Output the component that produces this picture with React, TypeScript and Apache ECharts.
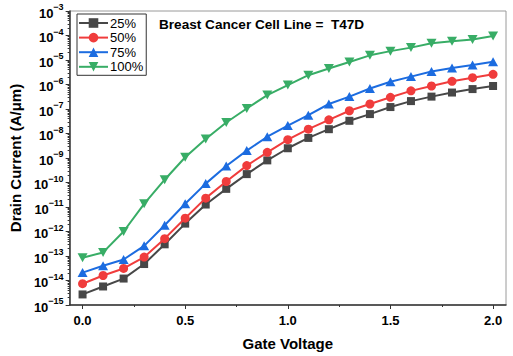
import React, { useEffect, useRef } from 'react';
import * as echarts from 'echarts';

const gateVoltage = [0, 0.1, 0.2, 0.3, 0.4, 0.5, 0.6, 0.7, 0.8, 0.9, 1.0, 1.1, 1.2, 1.3, 1.4, 1.5, 1.6, 1.7, 1.8, 1.9, 2.0];
const seriesNames = ['25%', '50%', '75%', '100%'];
const current25 = [2.7e-15, 5.7e-15, 1.2e-14, 4.7e-14, 3.0e-13, 2.1e-12, 1.26e-11, 5.5e-11, 2.2e-10, 8.0e-10, 2.5e-9, 6.6e-9, 1.5e-8, 3.3e-8, 6.2e-8, 1.2e-7, 2.1e-7, 3.2e-7, 4.7e-7, 6.5e-7, 8.7e-7];
const current50 = [7.4e-15, 1.6e-14, 3.1e-14, 9.0e-14, 5.1e-13, 3.5e-12, 2.3e-11, 1.1e-10, 4.9e-10, 1.7e-9, 5.6e-9, 1.5e-8, 3.6e-8, 8.5e-8, 1.6e-7, 3.0e-7, 5.5e-7, 8.7e-7, 1.35e-6, 1.9e-6, 2.6e-6];
const current75 = [2.1e-14, 4.0e-14, 7.2e-14, 2.6e-13, 1.8e-12, 1.35e-11, 9.0e-11, 4.7e-10, 2.0e-9, 7.4e-9, 2.1e-8, 5.6e-8, 1.6e-7, 3.2e-7, 6.9e-7, 1.3e-6, 2.1e-6, 3.4e-6, 4.7e-6, 6.3e-6, 8.5e-6];
const current100 = [8.5e-14, 1.4e-13, 1.0e-12, 1.35e-11, 1.3e-10, 1.07e-9, 6.0e-9, 2.8e-8, 1.05e-7, 3.7e-7, 9.5e-7, 2.4e-6, 4.5e-6, 8.3e-6, 1.55e-5, 2.3e-5, 3.2e-5, 4.8e-5, 5.8e-5, 6.9e-5, 9.5e-5];

const xMajorTicks = [0, 0.5, 1.0, 1.5, 2.0];
const xMinorTicks = [0.25, 0.75, 1.25, 1.75];
const yExponentMin = -15;
const yExponentMax = -3;
const titleText = 'Breast Cancer Cell Line =  T47D';

const FONT = '"Liberation Sans", Arial, sans-serif';

export default function App() {
  const ref = useRef<HTMLDivElement>(null);
  useEffect(() => {
    if (!ref.current) return;
    const chart = echarts.init(ref.current, null, { renderer: 'svg' });
    const yMinorTicks: number[] = [];
    for (let e = yExponentMin; e < yExponentMax; e++) {
      for (let k = 2; k <= 9; k++) yMinorTicks.push(e + Math.log10(k));
    }
    const xMin = -0.063;
    const xMax = 2.063;
    const allSeries = [current25, current50, current75, current100];
    const colors = ['#474747', '#f03c3c', '#1c6ce0', '#38ad66'];
    const symbols = ['rect', 'circle', 'triangle', 'path://M0,0L10,0L5,9Z'];
    const sizes: any[] = [8, 9, [10, 9], [10, 9]];
    const axisColor = '#333';
    chart.setOption({
      animation: false,
      color: colors,
      title: {
        text: titleText,
        left: 159,
        top: 17,
        padding: 0,
        textStyle: { fontFamily: FONT, fontWeight: 'bold', fontSize: 13.6, color: '#000' },
      },
      legend: {
        data: seriesNames,
        orient: 'vertical',
        left: 77,
        top: 14,
        itemWidth: 29,
        itemHeight: 12,
        itemGap: 1.6,
        padding: [2.5, 3, 2, 1],
        borderColor: '#333',
        borderWidth: 1,
        borderRadius: 0,
        textStyle: { fontFamily: FONT, fontSize: 13, color: '#000', padding: [0, 0, 0, -3] },
      },
      grid: { left: 67, right: 7, top: 11, bottom: 49, show: true, borderColor: '#9a9a9a', borderWidth: 1, backgroundColor: 'transparent' },
      xAxis: [
        {
          type: 'value', min: xMin, max: xMax, position: 'bottom',
          splitLine: { show: false },
          axisLine: { show: true, onZero: false, lineStyle: { color: axisColor, width: 1.5 } },
          axisTick: { show: true, customValues: xMajorTicks, length: 4, lineStyle: { color: axisColor } },
          axisLabel: {
            customValues: xMajorTicks, formatter: (v: number) => v.toFixed(1),
            fontFamily: FONT, fontWeight: 'bold', fontSize: 13, color: '#000', margin: 9,
          },
          name: 'Gate Voltage', nameLocation: 'middle', nameGap: 31,
          nameTextStyle: { fontFamily: FONT, fontWeight: 'bold', fontSize: 15, color: '#000' },
        },
        {
          type: 'value', min: xMin, max: xMax, position: 'bottom',
          splitLine: { show: false },
          axisLine: { show: false, onZero: false },
          axisTick: { show: true, customValues: xMinorTicks, length: 2, lineStyle: { color: axisColor } },
          axisLabel: { show: false },
        },
      ],
      yAxis: [
        {
          type: 'value', min: yExponentMin, max: yExponentMax, interval: 1, position: 'left',
          splitLine: { show: false },
          axisLine: { show: true, onZero: false, lineStyle: { color: axisColor, width: 1.5 } },
          axisTick: { show: true, length: 4, lineStyle: { color: axisColor } },
          axisLabel: {
            margin: 6,
            formatter: (v: number) => `{b|10}{s|\u2212${Math.abs(Math.round(v))}}`,
            rich: {
              b: { fontFamily: FONT, fontWeight: 'bold', fontSize: 13, color: '#000', lineHeight: 17, verticalAlign: 'bottom' },
              s: { fontFamily: FONT, fontWeight: 'bold', fontSize: 9, color: '#000', lineHeight: 10, verticalAlign: 'top' },
            },
          },
          name: 'Drain Current (A/\u03bcm)', nameLocation: 'middle', nameGap: 30,
          nameTextStyle: { fontFamily: FONT, fontWeight: 'bold', fontSize: 15, color: '#000' },
        },
        {
          type: 'value', min: yExponentMin, max: yExponentMax, position: 'left',
          splitLine: { show: false },
          axisLine: { show: false, onZero: false },
          axisTick: { show: true, customValues: yMinorTicks, length: 2, lineStyle: { color: axisColor } },
          axisLabel: { show: false },
        },
      ],
      series: allSeries.map((vals, i) => ({
        name: seriesNames[i],
        type: 'line',
        xAxisIndex: 0,
        yAxisIndex: 0,
        data: gateVoltage.map((x, j) => [x, Math.log10(vals[j])]),
        symbol: symbols[i],
        symbolSize: sizes[i],
        lineStyle: { width: 2, color: colors[i] },
        itemStyle: { color: colors[i] },
        z: 2 + i,
      })),
    });
    return () => chart.dispose();
  }, []);
  return <div ref={ref} style={{ position: 'absolute', left: 0, top: 0, width: 513, height: 356 }} />;
}
